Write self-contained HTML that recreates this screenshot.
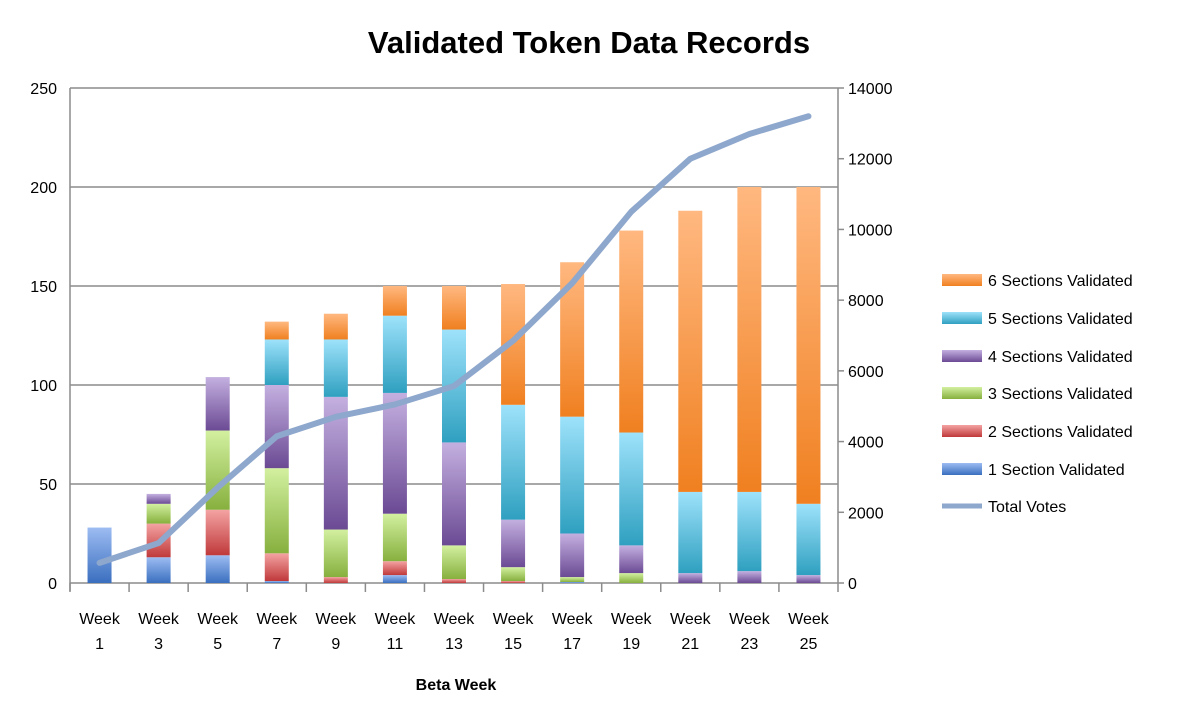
<!DOCTYPE html>
<html><head><meta charset="utf-8"><style>
body{margin:0;background:#fff;font-family:"Liberation Sans",sans-serif}
svg text{font-family:"Liberation Sans",sans-serif}
</style></head><body>
<svg id="c" width="1179" height="720">
<defs>
<linearGradient id="g0" x1="0" y1="0" x2="0" y2="1"><stop offset="0" stop-color="#9dbcf2"/><stop offset="1" stop-color="#3a6fbf"/></linearGradient>
<linearGradient id="g1" x1="0" y1="0" x2="0" y2="1"><stop offset="0" stop-color="#f4a3a3"/><stop offset="1" stop-color="#c0393a"/></linearGradient>
<linearGradient id="g2" x1="0" y1="0" x2="0" y2="1"><stop offset="0" stop-color="#d3f0a0"/><stop offset="1" stop-color="#86b03e"/></linearGradient>
<linearGradient id="g3" x1="0" y1="0" x2="0" y2="1"><stop offset="0" stop-color="#c4b0e0"/><stop offset="1" stop-color="#6b4a94"/></linearGradient>
<linearGradient id="g4" x1="0" y1="0" x2="0" y2="1"><stop offset="0" stop-color="#9ee2fb"/><stop offset="1" stop-color="#2fa0c0"/></linearGradient>
<linearGradient id="g5" x1="0" y1="0" x2="0" y2="1"><stop offset="0" stop-color="#ffb880"/><stop offset="1" stop-color="#f08020"/></linearGradient>
</defs>
<text x="589" y="53" text-anchor="middle" font-size="31" font-weight="bold">Validated Token Data Records</text>
<text x="456" y="690" text-anchor="middle" font-size="16" font-weight="bold">Beta Week</text>
<g id="grid"></g><g id="bars"></g><g id="line"></g><g id="axes"></g><g id="legend"></g>
</svg>
<script>
const categories=["1","3","5","7","9","11","13","15","17","19","21","23","25"];
const s1=[28,13,14,1,0,4,0,0,0.5,0,0,0,0];
const s2=[0,17,23,14,3,7,2,1,0,0,0,0,0];
const s3=[0,10,40,43,24,24,17,7,2.5,5,0,0,0];
const s4=[0,5,27,42,67,61,52,24,22,14,5,6,4];
const s5=[0,0,0,23,29,39,57,58,59,57,41,40,36];
const s6=[0,0,0,9,13,15,22,61,78,102,142,154,160];
const totalVotes=[570,1130,2700,4150,4700,5050,5570,6850,8480,10500,12000,12700,13200];
const leftTicks=[0,50,100,150,200,250];
const rightTicks=[0,2000,4000,6000,8000,10000,12000,14000];
const seriesNames=["1 Section Validated","2 Sections Validated","3 Sections Validated","4 Sections Validated","5 Sections Validated","6 Sections Validated"];
const series=[s1,s2,s3,s4,s5,s6];
const NS="http://www.w3.org/2000/svg";
const X0=70,X1=838,Y0=583,Y1=88;
const bw=(X1-X0)/categories.length;
const yL=v=>Y0-(v/250)*(Y0-Y1);
const yR=v=>Y0-(v/14000)*(Y0-Y1);
const xC=i=>X0+bw*(i+0.5);
function mk(t,a,p){const e=document.createElementNS(NS,t);for(const k in a)e.setAttribute(k,a[k]);p.appendChild(e);return e;}
const G=document.getElementById('grid'),B=document.getElementById('bars'),L=document.getElementById('line'),A=document.getElementById('axes'),LG=document.getElementById('legend');
leftTicks.forEach(v=>{const l=mk('line',{x1:X0,x2:X1,y1:yL(v),y2:yL(v),stroke:'#8c8c8c','stroke-width':1.5},G);


const t=mk('text',{x:57,y:yL(v)+6,'text-anchor':'end','font-size':16},A);t.textContent=v;

});
rightTicks.forEach(v=>{const t=mk('text',{x:848,y:yR(v)+6,'font-size':16},A);t.textContent=v;


mk('line',{x1:X1,x2:X1+6,y1:yR(v),y2:yR(v),stroke:'#8c8c8c','stroke-width':1.5},A);});
mk('line',{x1:X0,x2:X0,y1:Y1,y2:Y0+8,stroke:'#8c8c8c','stroke-width':1.5},A);
mk('line',{x1:X1,x2:X1,y1:Y1,y2:Y0,stroke:'#8c8c8c','stroke-width':1.5},A);
for(let i=0;i<=categories.length;i++)mk('line',{x1:X0+bw*i,x2:X0+bw*i,y1:Y0,y2:Y0+9,stroke:'#8c8c8c','stroke-width':1.5},A);
categories.forEach((c,i)=>{
 const t1=mk('text',{x:xC(i),y:624,'text-anchor':'middle','font-size':16},A);t1.textContent='Week';
 
 
 const t2=mk('text',{x:xC(i),y:649,'text-anchor':'middle','font-size':16},A);t2.textContent=c;
 
 
 let cum=0;
 series.forEach((s,k)=>{const v=s[i];if(v<=0)return;
  const r=mk('rect',{x:xC(i)-12,y:yL(cum+v),width:24,height:yL(cum)-yL(cum+v),fill:'url(#g'+k+')'},B);
  
  
  cum+=v;});
});
const pl=mk('polyline',{points:totalVotes.map((v,i)=>xC(i)+','+yR(v)).join(' '),fill:'none',stroke:'#8ea7cc','stroke-width':6,'stroke-linejoin':'round','stroke-linecap':'round'},L);


const ly=[469,431,393,356,318,280];
ly.forEach((y,k)=>{const r=mk('rect',{x:942,y:y-6,width:40,height:12,fill:'url(#g'+k+')'},LG);


const t=mk('text',{x:988,y:y+6,'font-size':16},LG);t.textContent=seriesNames[k];

});
mk('line',{x1:942,x2:982,y1:506,y2:506,stroke:'#8ea7cc','stroke-width':5},LG);
const tv=mk('text',{x:988,y:512,'font-size':16},LG);tv.textContent='Total Votes';


</script>
</body></html>
